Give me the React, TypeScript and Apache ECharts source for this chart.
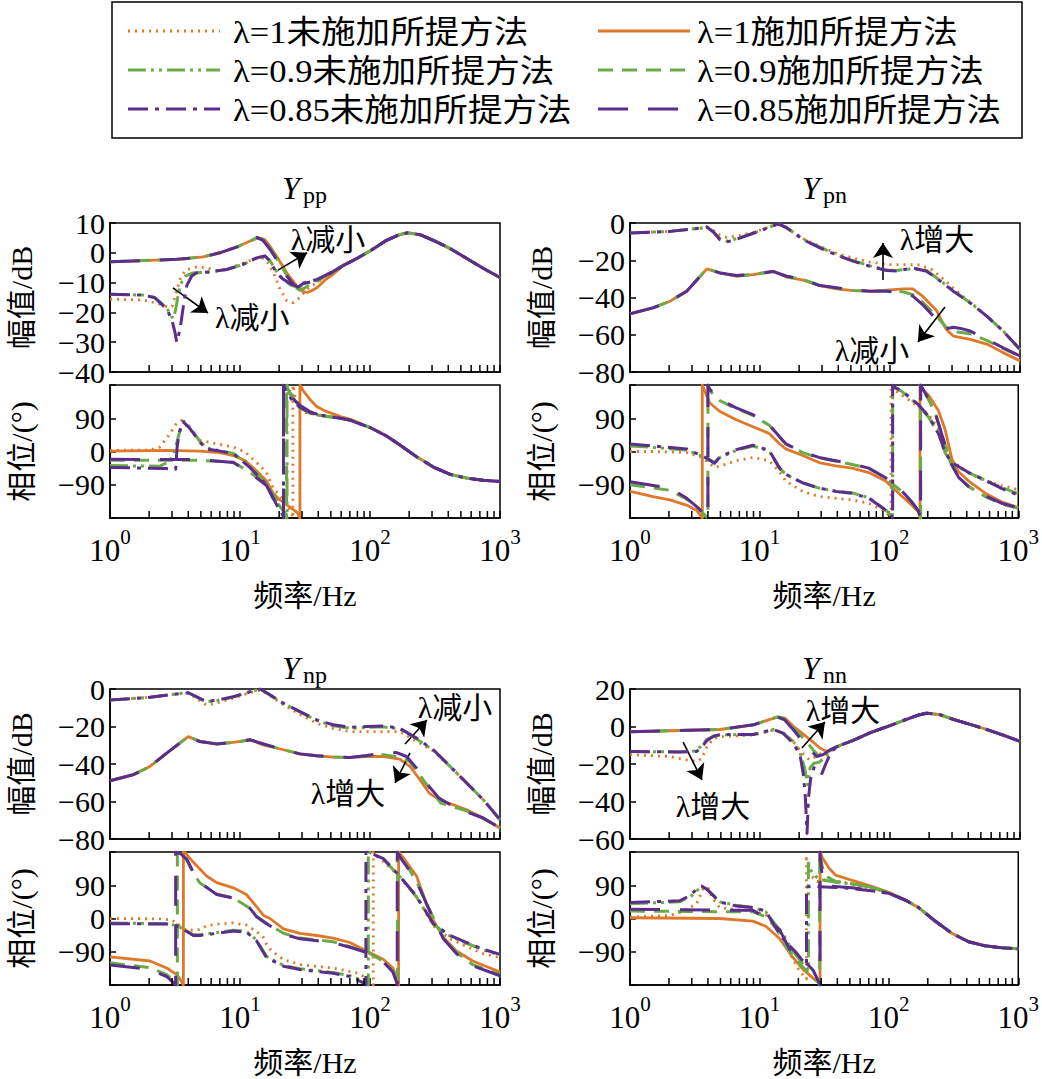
import React, { useEffect, useRef } from 'react';
import * as echarts from 'echarts';

// ---------- colours, fonts ----------
const ORANGE = '#E0782A';
const GREEN = '#6AAA48';
const PURPLE = '#5B2D8C';
const FONT = "'Liberation Serif', 'DejaVu Serif', 'Noto Sans CJK SC', serif";

const SERIES_NAMES = [
  'λ=1未施加所提方法',
  'λ=1施加所提方法',
  'λ=0.9未施加所提方法',
  'λ=0.9施加所提方法',
  'λ=0.85未施加所提方法',
  'λ=0.85施加所提方法',
];

const LINE_STYLES: any[] = [
  { color: ORANGE, width: 2.8, type: [2, 5] },
  { color: ORANGE, width: 2.8, type: 'solid' },
  { color: GREEN, width: 3, type: [18, 5, 3, 5, 3, 5] },
  { color: GREEN, width: 3, type: [15, 9] },
  { color: PURPLE, width: 3, type: [20, 7, 4, 7] },
  { color: PURPLE, width: 3, type: [30, 20] },
];

// minor tick positions of the log frequency axis
const MINOR_TICKS = [2, 3, 4, 5, 6, 7, 8, 9, 20, 30, 40, 50, 60, 70, 80, 90, 200, 300, 400, 500, 600, 700, 800, 900];

// ---------- Ypp ----------
const ppMagTail = [[62.6, -4.2], [80, -1.8], [100, 0.6], [134, 4.2], [169, 6.1], [195, 6.7], [242, 6.1], [307, 4.2], [414, 1.4], [555, -1.9], [742, -5.2], [1000, -8.3]];
const ppMagOff1 = [[1, -15.6], [1.8, -15.8], [2.42, -17.2], [2.8, -18.3], [3.0, -18], [3.2, -14], [3.45, -9], [3.8, -5.8], [4.6, -4.8], [5.5, -5], [6.5, -6], [8, -5.4], [10, -3.8], [12, -2.6], [14.5, -1.5], [16, -2.5], [18.1, -6.7], [20.3, -12.2], [22.9, -16.1], [25.7, -16.7], [28.9, -15], [32.7, -12.2], [38.9, -10], [52, -6.5], ...ppMagTail];
const ppMagOn1 = [[1, -3], [1.8, -2.6], [3.26, -2.2], [5.2, -1.4], [7, 0], [9.5, 2], [11.9, 3.9], [13.8, 5.1], [15.5, 4.4], [17, 2.2], [19.1, -1.1], [22.9, -6.7], [27.3, -11.1], [30.5, -13], [33, -13.3], [36, -12.6], [38.9, -11.8], [45, -9.2], [52, -7.2], ...ppMagTail];
const ppMagOff09 = [[1, -13.9], [1.8, -14.2], [2.2, -15], [2.42, -16.5], [2.73, -18.5], [2.98, -21.5], [3.08, -22], [3.2, -19], [3.35, -14], [3.55, -10], [3.8, -7.8], [4.3, -6.8], [5.9, -6.4], [7.9, -5.6], [10.6, -3.9], [13.4, -1.7], [15.6, -1.1], [17, -2.6], [19.1, -6.2], [21.5, -9], [24.5, -10.8], [27.5, -11.5], [30.5, -11], [33, -10.2], [38.9, -9.2], [52, -6.4], ...ppMagTail];
const ppMagOn09 = [[1, -3], [1.8, -2.6], [3.26, -2.2], [5.2, -1.4], [7, 0], [9.5, 2], [11.9, 3.9], [13.6, 5.1], [15.3, 4.4], [17, 1.8], [19.1, -1.8], [22.9, -7.5], [26.5, -11.5], [28.8, -12.6], [31, -12], [34, -10.8], [38.9, -9.8], [45, -7.8], [52, -6.3], ...ppMagTail];
const ppMagOff085 = [[1, -13.9], [1.8, -14.2], [2.2, -15], [2.42, -16.7], [2.73, -18.9], [2.98, -22.2], [3.16, -26.7], [3.26, -30], [3.46, -25.6], [3.67, -17.8], [3.89, -11.1], [4.25, -7.8], [4.64, -6.7], [5.9, -6.4], [7.9, -5.6], [10.6, -3.9], [13.4, -1.7], [15.6, -1.1], [17, -2.8], [19.1, -6.7], [21.5, -8.9], [25, -10.6], [27.5, -11.1], [30.5, -10.2], [33, -9.8], [38.9, -9], [52, -6.3], ...ppMagTail];
const ppMagOn085 = [[1, -3], [1.8, -2.6], [3.26, -2.2], [5.2, -1.4], [7, 0], [9.5, 2], [11.9, 3.9], [13.4, 5.2], [15, 4.2], [17, 1.2], [19.1, -2.2], [22.9, -7.8], [26, -10.8], [28, -11.5], [30, -10.5], [33, -10], [38.9, -9.2], [45, -7.8], [52, -6.3], ...ppMagTail];

const ppPhTail = [[100, 65], [134, 42], [169, 18], [228, -14], [307, -42], [414, -62], [555, -72], [742, -78], [1000, -81]];
const ppPhOff1 = [[1, 3], [2, 4], [2.42, 12], [2.9, 49], [3.26, 77], [3.56, 84], [4.05, 63], [4.9, 30], [6.6, 21], [8.9, 12], [11, -2], [13, -25], [16, -57], [18, -99], [21, -126], [23.5, -154], [25.2, -172], [25.5, -180], [25.5, 180], [26.5, 150], [28.9, 120], [32, 105], [38.9, 100], [52, 93], [70, 85], ...ppPhTail];
const ppPhOn1 = [[1, 1], [2.7, 3], [4.9, 1], [7, -3], [8.9, -11], [11, -25], [13, -48], [16, -80], [18, -113], [20.3, -131], [24, -150], [27.5, -165], [28.9, -180], [28.9, 180], [30.6, 165], [34.5, 141], [38.9, 122], [45, 110], [52, 102], [60, 94], [70, 88], ...ppPhTail];
const ppPhOff09 = [[1, -38], [2.4, -40], [2.75, -30], [3.05, -15], [3.3, 30], [3.5, 65], [3.75, 82], [4.2, 62], [4.9, 28], [5.5, 10], [6.6, 4], [8.9, -5], [11.9, -40], [16, -88], [19, -135], [22.5, -170], [23, -180], [23, 180], [24.3, 160], [25.7, 145], [28.9, 120], [34.5, 104], [38.9, 99], [52, 93], [70, 85], ...ppPhTail];
const ppPhOn09 = [[1, -24], [5, -24], [8.9, -29], [11.9, -56], [16, -90], [19, -130], [22, -165], [22.8, -180], [22.8, 180], [24.3, 155], [25.7, 138], [28.9, 118], [34.5, 104], [38.9, 99], [52, 93], [70, 85], ...ppPhTail];
const ppPhOff085 = [[1, -43], [2.7, -46], [3.2, -48], [3.28, 10], [3.4, 50], [3.65, 81], [4.1, 63], [4.9, 26], [5.5, 7], [6.6, 3], [8.9, -6], [11.9, -43], [16, -90], [19.5, -150], [21.3, -172], [21.6, -180], [21.6, 180], [23, 158], [25.7, 135], [28.9, 120], [34.5, 106], [38.9, 100], [52, 93], [70, 85], ...ppPhTail];
const ppPhOn085 = [[1, -21], [5, -22], [8.9, -30], [11.9, -57], [16, -92], [18.5, -136], [21, -170], [21.6, -180], [21.6, 180], [22.5, 170], [24.3, 150], [28.9, 125], [34.5, 108], [38.9, 101], [52, 94], [70, 85], ...ppPhTail];

// ---------- Ypn ----------
const pnMagOff1 = [[1, -5.4], [2.03, -4.5], [3.56, -2.7], [3.9, -2.1], [4.4, -4], [4.92, -6.5], [5.53, -7.7], [6.62, -7], [8.9, -5], [11.9, -2], [13.8, -0.5], [16, -2.5], [21.6, -8.5], [28.9, -12.5], [38.9, -16.3], [52, -18.8], [70, -21], [94.4, -22.3], [127, -22.3], [169, -22.5], [210, -25], [260, -30.4], [307, -35], [414, -42.5], [555, -50], [742, -58], [1000, -67.9]];
const pnMagOn1 = [[1, -48.8], [1.51, -45.5], [2.03, -42], [2.73, -36.6], [3.9, -24.6], [4.92, -26.8], [6.62, -28.6], [8.9, -27.7], [12.6, -25.9], [16, -29], [21.6, -30.7], [28.9, -33.6], [38.9, -35.4], [52, -36.3], [70, -36.6], [94.4, -36], [127, -35.4], [150, -35.4], [178, -39.3], [228, -47], [270, -57], [307, -60.7], [414, -62.5], [555, -65], [742, -69.6], [1000, -74]];
const pnMagOff09 = [[1, -5.4], [2.03, -4.5], [3.56, -2.7], [3.9, -2.1], [4.4, -4.8], [4.92, -8.5], [5.53, -9.8], [6.62, -8.4], [8.9, -5.4], [11.9, -2.1], [13.8, -0.5], [16, -2.5], [21.6, -8.8], [28.9, -13], [38.9, -17], [52, -20.3], [70, -23], [94.4, -25.2], [112, -25.5], [150, -24.5], [191, -25.5], [242, -30.8], [307, -36.4], [414, -42.8], [555, -50], [742, -58], [1000, -67.9]];
const pnMagOn09 = [[1, -48.8], [1.51, -45.5], [2.03, -42], [2.73, -36.6], [3.9, -24.6], [4.92, -26.8], [6.62, -28.2], [8.9, -27.7], [12.6, -26], [16, -28.6], [21.6, -30.4], [28.9, -33.6], [38.9, -35], [52, -36.2], [70, -36.6], [94.4, -36.3], [127, -37], [150, -38.5], [178, -42.5], [228, -50], [270, -56], [330, -58.5], [414, -59.5], [555, -63], [742, -67.5], [1000, -71.5]];
const pnMagOff085 = [[1, -5.4], [2.03, -4.5], [3.56, -2.7], [3.9, -2.1], [4.4, -5], [4.92, -9], [5.53, -10.2], [6.62, -8.7], [8.9, -5.5], [11.9, -2.2], [13.8, -0.5], [16, -2.5], [21.6, -9], [28.9, -13.4], [38.9, -17.2], [52, -20.5], [70, -23.2], [94.4, -25.5], [112, -25.8], [150, -24.1], [191, -25.9], [242, -31], [307, -36.6], [414, -42.9], [555, -50], [742, -58], [1000, -67.9]];
const pnMagOn085 = [[1, -48.8], [1.51, -45.5], [2.03, -42], [2.73, -36.6], [3.9, -24.6], [4.92, -26.8], [6.62, -28.2], [8.9, -27.7], [12.6, -26], [16, -28.6], [21.6, -30.4], [28.9, -33.6], [38.9, -34.8], [52, -36], [70, -36.6], [94.4, -36.6], [127, -37.5], [150, -39.3], [178, -43.8], [228, -51.8], [260, -57], [307, -56], [350, -56.6], [414, -58], [555, -62.5], [742, -67], [1000, -71.4]];

const pnPhOff1 = [[1, 0], [1.51, 0], [2.73, -3], [3.56, -15], [4.5, -43], [4.92, -40], [6.62, -25], [8.9, -16], [11.9, -25], [14.3, -55], [16, -80], [21.6, -108], [28.9, -122], [52, -131], [70, -140], [94.4, -163], [104, -180], [104, 180], [112, 165], [150, 135], [203, 100], [242, 60], [272, 20], [307, -25], [414, -58], [555, -80], [742, -92], [1000, -103]];
const pnPhOn1 = [[1, -108], [1.51, -122], [2.03, -131], [2.73, -145], [3.26, -159], [3.5, -173], [3.62, -180], [3.62, 180], [4.12, 132], [4.92, 109], [6.62, 86], [8.9, 67], [11.9, 49], [14.3, 21], [16, 7], [21.6, -11], [28.9, -30], [38.9, -39], [52, -45], [70, -57], [94.4, -80], [127, -122], [150, -145], [169, -163], [174, -180], [174, 180], [180, 170], [203, 152], [242, 110], [272, 60], [307, -20], [346, -55], [414, -80], [555, -113], [742, -136], [1000, -152]];
const pnPhOff09 = [[1, 15], [1.51, 11], [2.73, 4], [3.56, -12], [4.0, -20], [4.5, -30], [4.92, -17], [6.62, 3], [8.9, 15], [11.9, 1], [14.3, -45], [16, -62], [21.6, -85], [28.9, -99], [38.9, -107], [52, -112], [70, -125], [94.4, -158], [106, -176], [107, -180], [107, 180], [112, 172], [127, 162], [169, 125], [203, 93], [242, 48], [272, -3], [307, -31], [414, -58], [555, -77], [742, -97], [1000, -114]];
const pnPhOn09 = [[1, -90], [2.03, -105], [2.73, -128], [3.4, -155], [3.9, -177], [4.0, -180], [4.0, 180], [4.12, 165], [4.92, 138], [6.62, 116], [8.9, 98], [11.9, 71], [14.3, 39], [16, 20], [21.6, -3], [28.9, -17], [52, -35], [70, -46], [94.4, -72], [127, -109], [150, -137], [169, -161], [176, -180], [176, 180], [190, 160], [228, 105], [260, 40], [300, -30], [346, -70], [414, -95], [555, -122], [742, -142], [1000, -154]];
const pnPhOff085 = [[1, 20], [1.51, 15], [2.73, 7], [3.56, -11], [4.0, -20], [4.5, -32], [4.92, -15], [6.62, 5], [8.9, 17], [11.9, 3], [14.3, -45], [16, -62], [21.6, -85], [28.9, -99], [38.9, -108], [52, -113], [70, -126], [94.4, -159], [106, -177], [107, -180], [107, 180], [112, 173], [127, 164], [169, 127], [203, 95], [242, 49], [272, -2], [307, -30], [414, -57], [555, -78], [742, -100], [1000, -118]];
const pnPhOn085 = [[1, -82], [2.03, -99], [2.73, -126], [3.4, -154], [3.9, -177], [4.0, -180], [4.0, 180], [4.12, 169], [4.92, 141], [6.62, 118], [8.9, 100], [11.9, 72], [14.3, 40], [16, 21], [21.6, -2], [28.9, -16], [52, -34], [70, -45], [94.4, -71], [127, -108], [150, -136], [169, -160], [176, -180], [176, 180], [190, 160], [228, 105], [260, 40], [300, -30], [346, -70], [414, -95], [555, -120], [742, -140], [1000, -152]];

// ---------- Ynp ----------
const npMagOff1 = [[1, -5.9], [2.03, -4.4], [3.56, -2.3], [4.0, -2], [4.6, -5], [5.5, -8.5], [6.62, -7.5], [8.9, -4.8], [11.9, -2], [14.3, -0.5], [16.5, -3], [21.6, -8.5], [28.9, -13.5], [38.9, -18.3], [52, -21], [70, -22.7], [94.4, -22.7], [127, -22.7], [169, -22.7], [228, -28], [307, -33], [414, -41.5], [555, -50.2], [742, -59], [1000, -69.7]];
const npMagOn1 = [[1, -48.9], [1.51, -45.7], [2.03, -41.3], [2.73, -34.2], [4.0, -25.4], [4.92, -28], [6.62, -29.3], [8.9, -28.5], [12, -27.1], [15, -29.8], [21.6, -32.4], [28.9, -34.6], [38.9, -35.6], [52, -36.3], [70, -36.5], [94.4, -36], [127, -36], [169, -37.4], [203, -41.3], [242, -48.4], [285, -55.5], [340, -59], [555, -64.4], [742, -68.8], [1000, -74.1]];
const npMagOff09 = [[1, -5.9], [2.03, -4.4], [3.56, -2.3], [4.0, -2], [4.6, -4.2], [5.5, -6.8], [6.62, -6.2], [8.9, -4.2], [11.9, -1.6], [14.3, 0], [16.5, -2.6], [21.6, -7.8], [28.9, -12.2], [38.9, -16.8], [52, -19.6], [70, -20.9], [94.4, -20.5], [127, -20.2], [169, -21.4], [228, -26.6], [307, -32.6], [414, -41.4], [555, -50.2], [742, -59], [1000, -69.7]];
const npMagOn09 = [[1, -48.9], [1.51, -45.7], [2.03, -41.3], [2.73, -34.2], [4.0, -25.4], [4.92, -28], [6.62, -29.3], [8.9, -28.5], [12, -27.1], [15, -29.4], [21.6, -32.4], [28.9, -34.6], [38.9, -35.6], [52, -36.3], [70, -36.5], [94.4, -35.8], [127, -35], [169, -36.5], [203, -38.7], [260, -49], [350, -60.8], [555, -65], [742, -69], [1000, -74.1]];
const npMagOff085 = [[1, -5.9], [2.03, -4.4], [3.56, -2.3], [4.0, -2], [4.6, -4], [5.5, -6.7], [6.62, -6], [8.9, -4.1], [11.9, -1.5], [14.3, 0], [16.5, -2.5], [21.6, -7.6], [28.9, -12], [38.9, -16.5], [52, -19.1], [70, -20.4], [94.4, -20], [127, -19.7], [169, -20.9], [228, -26.2], [307, -32.4], [414, -41.3], [555, -50.2], [742, -59], [1000, -69.7]];
const npMagOn085 = [[1, -48.9], [1.51, -45.7], [2.03, -41.3], [2.73, -34.2], [4.0, -25.4], [4.92, -28], [6.62, -29.3], [8.9, -28.5], [12, -27.1], [15, -29.2], [21.6, -32.4], [28.9, -34.6], [38.9, -35.6], [52, -36.3], [70, -36.5], [94.4, -35.5], [127, -34.2], [160, -33.9], [191, -36], [228, -42.2], [285, -52], [340, -58.2], [460, -63.5], [742, -68.8], [1000, -74.1]];

const npPhOff1 = [[1, 0], [2.42, -1], [3.0, -4], [3.4, -18], [3.9, -32], [4.9, -30], [5.5, -20], [6.62, -15], [8.9, -12], [11.2, -18], [13.4, -35], [15.1, -51], [16, -70], [17.5, -88], [21.6, -111], [28.9, -125], [52, -134], [80, -148], [95, -162], [104, -172], [106, -180], [106, 180], [112, 170], [169, 115], [228, 60], [307, -20], [414, -55], [555, -76], [742, -95], [1000, -106]];
const npPhOn1 = [[1, -104], [2.03, -115], [2.73, -134], [3.26, -152], [3.56, -171], [3.67, -180], [3.67, 180], [3.78, 178], [4.38, 152], [5.53, 115], [6.62, 97], [8.89, 83], [11.2, 65], [13.4, 32], [15.1, 9], [17, 0], [21.6, -28], [28.9, -40], [38.9, -46], [52, -53], [70, -65], [94.4, -88], [127, -111], [150, -134], [163, -165], [166, -180], [166, 180], [180, 165], [228, 115], [270, 42], [307, -5], [367, -51], [462, -88], [618, -115], [1000, -145]];
const npPhOff09 = [[1, -12], [2.73, -14], [3.26, -19], [3.6, -27], [4.38, -44], [4.92, -44], [6.62, -38], [8.9, -32], [11.2, -35], [13.4, -58], [16, -103], [21.6, -127], [28.9, -136], [52, -146], [70, -155], [92, -170], [97, -180], [97, 180], [103, 176], [127, 160], [169, 113], [228, 58], [307, -16], [414, -48], [555, -67], [742, -85], [1000, -99]];
const npPhOn09 = [[1, -120], [2.03, -133], [2.73, -152], [3.25, -175], [3.3, -180], [3.3, 180], [3.6, 172], [3.89, 158], [4.38, 122], [4.92, 96], [6.62, 66], [8.89, 56], [11.9, 28], [13.4, 6], [16, -13], [21.6, -40], [28.9, -53], [52, -63], [70, -76], [94.4, -90], [127, -116], [150, -142], [160, -170], [163, -180], [163, 180], [175, 162], [203, 130], [242, 82], [272, 42], [307, 2], [367, -52], [462, -92], [618, -125], [1000, -152]];
const npPhOff085 = [[1, -14], [2.73, -15], [3.26, -20], [3.6, -28], [4.38, -46], [4.92, -46], [6.62, -40], [8.9, -34], [11.2, -37], [13.4, -60], [16, -106], [21.6, -129], [28.9, -138], [52, -148], [70, -157], [90, -175], [93, -180], [93, 180], [100, 178], [127, 162], [169, 115], [228, 60], [307, -14], [414, -46], [555, -65], [742, -83], [1000, -97]];
const npPhOn085 = [[1, -126], [2.03, -138], [2.73, -157], [3.1, -175], [3.2, -180], [3.2, 180], [3.5, 175], [3.89, 161], [4.38, 125], [4.92, 97], [6.62, 65], [8.89, 55], [11.9, 28], [13.4, 5], [16, -14], [21.6, -42], [28.9, -55], [52, -65], [70, -78], [94.4, -92], [127, -118], [150, -145], [160, -172], [162, -180], [162, 180], [175, 160], [203, 128], [242, 80], [272, 40], [307, 0], [367, -55], [462, -95], [618, -128], [1000, -155]];

// ---------- Ynn ----------
const nnMagTail = [[38.9, -10.8], [52, -7.4], [70, -3.4], [100, 0.5], [134, 3.8], [169, 6.3], [191, 7.1], [242, 6.3], [307, 3.8], [414, 1.1], [555, -1.6], [742, -4.6], [1000, -7.9]];
const nnMagOff1 = [[1, -15], [2.03, -16], [2.73, -17.8], [3.26, -18.7], [3.56, -17], [3.9, -11], [4.38, -6.5], [4.92, -5.5], [6.62, -5], [8.9, -4.5], [11.9, -2.5], [12.6, -1.8], [15, -3], [18, -8], [21, -14], [24, -17.8], [27, -16], [30, -14], [34.5, -12.5], ...nnMagTail];
const nnMagOn1 = [[1, -2.8], [4.92, -1.6], [8.9, 0.9], [11, 3], [13.8, 5.1], [15.5, 4.5], [18, 0.2], [24.3, -7], [28.9, -11.5], [32.5, -13.3], [36, -12.5], ...nnMagTail];
const nnMagOff09 = [[1, -13.3], [2.42, -13.6], [3.26, -13], [3.56, -10], [3.9, -7], [4.38, -5.2], [4.92, -4.5], [8.9, -4.3], [12.6, -1.6], [15, -3.5], [18, -8], [20.3, -14], [22, -22], [23.2, -31], [24.3, -22], [26, -19.6], [28.5, -19], [31, -17], [34.5, -13.5], ...nnMagTail];
const nnMagOn09 = [[1, -2.8], [4.92, -1.6], [8.9, 0.9], [11, 3], [13.6, 5.1], [15.3, 4.3], [18, -0.6], [22.8, -8], [26, -13], [28.5, -16], [30.5, -15], [34.5, -12.8], ...nnMagTail];
const nnMagOff085 = [[1, -13.3], [2.42, -13.6], [3.26, -13.3], [3.56, -11], [3.9, -7.5], [4.38, -5.2], [4.92, -4.3], [8.9, -4.3], [12.6, -1.6], [15, -3.5], [18, -9], [20.3, -15], [21.5, -25], [22.3, -37], [23, -57], [23.6, -38], [24.5, -28], [26, -22], [28.5, -24], [30, -25], [32, -20], [35, -14], ...nnMagTail];
const nnMagOn085 = [[1, -2.8], [4.92, -1.6], [8.9, 0.9], [11, 3], [13.4, 5.2], [15.5, 3.5], [18, -1.6], [22.8, -10.6], [27.3, -16], [30.6, -15], [34.5, -12.5], ...nnMagTail];

const nnPhTail = [[134, 50], [169, 30], [228, -7], [307, -40], [414, -63], [555, -74], [742, -79], [1000, -82]];
const nnPhOff1 = [[1, 4], [2.03, 8], [2.42, 16], [3.26, 39], [3.67, 80], [4.0, 85], [4.38, 52], [4.92, 30], [6.62, 24], [8.89, 20], [11.2, 10], [13.4, -20], [15.1, -44], [17.5, -100], [20.3, -141], [23.1, -164], [23.1, 163], [24.5, 130], [26, 110], [28, 100], [30.5, 105], [35, 103], [45, 98], [60, 88], [100, 70], ...nnPhTail];
const nnPhOn1 = [[1, 2], [4.92, 0], [8.89, -7], [11.2, -21], [14.3, -54], [18, -104], [21.6, -137], [25.7, -160], [28.6, -174], [29.4, -180], [29.4, 180], [30.6, 165], [34.5, 136], [38.9, 117], [52, 103], [70, 90], [100, 71], ...nnPhTail];
const nnPhOff09 = [[1, 40], [2.42, 45], [3.0, 62], [3.4, 80], [3.56, 88], [3.9, 80], [4.5, 60], [4.92, 45], [6.62, 36], [8.89, 30], [11.2, 18], [13.4, -18], [15.1, -40], [17.5, -80], [20.3, -110], [23.9, -140], [23.9, 150], [25, 130], [27, 115], [29.4, 105], [31, 104], [38.9, 98], [52, 93], [70, 86], [100, 70], ...nnPhTail];
const nnPhOn09 = [[1, 20], [8.9, 18], [11.2, 5], [13.4, -25], [16, -75], [19, -110], [22.8, -140], [25.7, -155], [28.5, -172], [29.2, -180], [29.2, 180], [30.6, 140], [32.5, 115], [38.9, 100], [52, 94], [70, 87], [100, 70], ...nnPhTail];
const nnPhOff085 = [[1, 43], [2.42, 48], [2.9, 62], [3.3, 80], [3.56, 88], [3.9, 80], [4.4, 62], [4.92, 45], [6.62, 34], [8.89, 30], [11.2, 20], [13.4, -26], [15.9, -63], [19, -90], [22, -118], [23.1, -125], [23.1, 85], [25, 87], [29.4, 86], [38.9, 84], [52, 81], [70, 76], [100, 68], ...nnPhTail];
const nnPhOn085 = [[1, 25], [8.9, 22], [11.2, 2], [14.3, -30], [17, -81], [19.5, -104], [23, -120], [26, -140], [28.8, -172], [29.4, -180], [29.4, 180], [30, 140], [31, 95], [34.5, 88], [52, 83], [70, 78], [100, 68], ...nnPhTail];

const MAG: Record<string, number[][][]> = {
  pp: [ppMagOff1, ppMagOn1, ppMagOff09, ppMagOn09, ppMagOff085, ppMagOn085],
  pn: [pnMagOff1, pnMagOn1, pnMagOff09, pnMagOn09, pnMagOff085, pnMagOn085],
  np: [npMagOff1, npMagOn1, npMagOff09, npMagOn09, npMagOff085, npMagOn085],
  nn: [nnMagOff1, nnMagOn1, nnMagOff09, nnMagOn09, nnMagOff085, nnMagOn085],
};
const PHASE: Record<string, number[][][]> = {
  pp: [ppPhOff1, ppPhOn1, ppPhOff09, ppPhOn09, ppPhOff085, ppPhOn085],
  pn: [pnPhOff1, pnPhOn1, pnPhOff09, pnPhOn09, pnPhOff085, pnPhOn085],
  np: [npPhOff1, npPhOn1, npPhOff09, npPhOn09, npPhOff085, npPhOn085],
  nn: [nnPhOff1, nnPhOn1, nnPhOff09, nnPhOn09, nnPhOff085, nnPhOn085],
};

// ---------- layout ----------
const PANELS = [
  { key: 'pp', left: 110, magTop: 223, magHeight: 149, phTop: 385, phHeight: 133, magMin: -40, magMax: 10, magStep: 10, titleY: 188 },
  { key: 'pn', left: 630, magTop: 223, magHeight: 149, phTop: 385, phHeight: 133, magMin: -80, magMax: 0, magStep: 20, titleY: 188 },
  { key: 'np', left: 110, magTop: 689, magHeight: 150, phTop: 852, phHeight: 133, magMin: -80, magMax: 0, magStep: 20, titleY: 668 },
  { key: 'nn', left: 630, magTop: 689, magHeight: 150, phTop: 852, phHeight: 133, magMin: -60, magMax: 20, magStep: 20, titleY: 668 },
];
const GRID_WIDTH = 390;

// arrows and their captions, in data coordinates of the magnitude plots
const ANNOTATIONS = [
  { panel: 0, text: 'λ减小', from: [19.6, -5.8], to: [32.8, 0], at: [47.5, 4.6] },
  { panel: 0, text: 'λ减小', from: [3.05, -11.8], to: [5.67, -20.2], at: [12.4, -21.6] },
  { panel: 1, text: 'λ增大', from: [88.3, -30.6], to: [88.3, -10.7], at: [230, -9.1] },
  { panel: 1, text: 'λ减小', from: [265, -45.1], to: [164, -63.9], at: [72.8, -68.2] },
  { panel: 2, text: 'λ减小', from: [186, -29.3], to: [274, -16.5], at: [451, -10.1] },
  { panel: 2, text: 'λ增大', from: [203, -34.1], to: [156, -50.1], at: [67.7, -55.5] },
  { panel: 3, text: 'λ增大', from: [21, -11.5], to: [31.6, 2.4], at: [43.5, 8.8] },
  { panel: 3, text: 'λ增大', from: [2.56, -8.3], to: [3.58, -28.5], at: [4.35, -42.9] },
];

const LEGEND_ROW_Y = [31, 70, 109];
const LEGEND_LINE_X = [128, 598];
const LEGEND_TEXT_X = [233, 697];

const minusSign = (v: number) => String(v).replace('-', '\u2212');

function buildOption() {
  const grid: any[] = [];
  const xAxis: any[] = [];
  const yAxis: any[] = [];
  const series: any[] = [];
  const graphic: any[] = [];

  const axisLineStyle = { color: '#000', width: 1.5 };

  PANELS.forEach((p, pi) => {
    const parts = [
      { top: p.magTop, height: p.magHeight, min: p.magMin, max: p.magMax, step: p.magStep, name: '幅值/dB', sets: MAG[p.key], isPhase: false },
      { top: p.phTop, height: p.phHeight, min: -180, max: 180, step: 90, name: '相位/(°)', sets: PHASE[p.key], isPhase: true },
    ];
    parts.forEach((part, j) => {
      const gi = pi * 2 + j;
      grid.push({ left: p.left, top: part.top, width: GRID_WIDTH, height: part.height, show: true, borderColor: '#000', borderWidth: 1.5, backgroundColor: 'transparent' });
      xAxis.push({
        type: 'log', logBase: 10, min: 1, max: 1000, gridIndex: gi,
        axisLine: { show: true, onZero: false, lineStyle: axisLineStyle },
        axisTick: { show: true, inside: true, length: 7, lineStyle: axisLineStyle },
        splitLine: { show: false },
        axisLabel: {
          show: part.isPhase, margin: 8,
          formatter: (v: number) => `{b|10}{s|${Math.round(Math.log10(v))}}`,
          rich: {
            b: { fontSize: 31, fontFamily: FONT, color: '#000', verticalAlign: 'bottom', lineHeight: 40 },
            s: { fontSize: 21, fontFamily: FONT, color: '#000', verticalAlign: 'top', lineHeight: 40 },
          },
        },
        name: part.isPhase ? '频率/Hz' : '',
        nameLocation: 'middle', nameGap: 62,
        nameTextStyle: { fontSize: 30, fontFamily: FONT, color: '#000' },
      });
      yAxis.push({
        type: 'value', min: part.min, max: part.max, interval: part.step, gridIndex: gi,
        axisLine: { show: true, onZero: false, lineStyle: axisLineStyle },
        axisTick: { show: true, inside: true, length: 6, lineStyle: axisLineStyle },
        splitLine: { show: false },
        axisLabel: {
          margin: 5, fontSize: 30, fontFamily: FONT, color: '#000',
          formatter: (v: number) => (part.isPhase && Math.abs(v) === 180 ? '' : minusSign(v)),
        },
        name: part.name, nameLocation: 'middle', nameRotate: 90, nameGap: 74,
        nameTextStyle: { fontSize: 30, fontFamily: FONT, color: '#000' },
      });

      part.sets.forEach((data, s) => {
        series.push({
          type: 'line', name: SERIES_NAMES[s], xAxisIndex: gi, yAxisIndex: gi,
          data, symbol: 'none', showSymbol: false, silent: true, z: 3 + s,
          lineStyle: { ...LINE_STYLES[s], cap: 'butt', join: 'round' },
        });
      });

      if (!part.isPhase) {
        const anns = ANNOTATIONS.filter((a) => a.panel === pi);
        const last = series[series.length - 1];
        last.markLine = {
          silent: true, symbol: ['none', 'arrow'], symbolSize: 15, animation: false,
          label: { show: false },
          lineStyle: { color: '#000', width: 1.6, type: 'solid' },
          data: anns.map((a) => [{ coord: a.from }, { coord: a.to }]),
        };
        last.markPoint = {
          silent: true, symbol: 'rect', symbolSize: 1, animation: false,
          itemStyle: { color: 'rgba(0,0,0,0)' },
          label: { show: true, position: 'inside', color: '#000', fontSize: 30, fontFamily: FONT, formatter: (d: any) => d.name },
          data: anns.map((a) => ({ name: a.text, coord: a.at })),
        };
      }

      // minor ticks of the log axis, drawn inside along the bottom edge
      series.push({
        type: 'custom', xAxisIndex: gi, yAxisIndex: gi, silent: true, z: 20, clip: false,
        data: MINOR_TICKS.map((f) => [f, part.min]),
        encode: { x: 0, y: 1 },
        renderItem: (params: any, api: any) => {
          const pt = api.coord([api.value(0), api.value(1)]);
          const cs = params.coordSys;
          const bottom = cs.y + cs.height;
          return { type: 'line', shape: { x1: pt[0], y1: bottom, x2: pt[0], y2: bottom - 7 }, style: { stroke: '#000', lineWidth: 1.5 } };
        },
      });
    });

    // panel title Y with subscript
    const cx = p.left + GRID_WIDTH / 2;
    graphic.push({ type: 'text', x: cx - 23, y: p.titleY, style: { text: 'Y', fontSize: 32, fontStyle: 'italic', fontFamily: FONT, fill: '#000', align: 'left', verticalAlign: 'middle' } });
    graphic.push({ type: 'text', x: cx - 2, y: p.titleY + 7, style: { text: p.key, fontSize: 24, fontFamily: FONT, fill: '#000', align: 'left', verticalAlign: 'middle' } });
  });

  // legend box
  graphic.push({ type: 'rect', shape: { x: 112, y: 2, width: 910, height: 136 }, style: { fill: 'none', stroke: '#000', lineWidth: 1.5 } });
  SERIES_NAMES.forEach((name, s) => {
    const col = s % 2;
    const row = Math.floor(s / 2);
    const y = LEGEND_ROW_Y[row];
    const ls = LINE_STYLES[s];
    graphic.push({
      type: 'line',
      shape: { x1: LEGEND_LINE_X[col], y1: y, x2: LEGEND_LINE_X[col] + 92, y2: y },
      style: { stroke: ls.color, lineWidth: ls.width, lineDash: Array.isArray(ls.type) ? ls.type : null },
    });
    graphic.push({
      type: 'text', x: LEGEND_TEXT_X[col], y: y + 1, scaleX: 1.08,
      style: { text: name, fontSize: 32, fontFamily: FONT, fill: '#000', align: 'left', verticalAlign: 'middle' },
    });
  });

  return { animation: false, backgroundColor: '#fff', grid, xAxis, yAxis, series, graphic };
}

export default function App() {
  const ref = useRef<HTMLDivElement>(null);
  useEffect(() => {
    document.body.style.margin = '0';
    if (!ref.current) return;
    const chart = echarts.init(ref.current, undefined, { renderer: 'svg' });
    chart.setOption(buildOption());
    return () => chart.dispose();
  }, []);
  return <div ref={ref} style={{ width: 1042, height: 1079 }} />;
}
